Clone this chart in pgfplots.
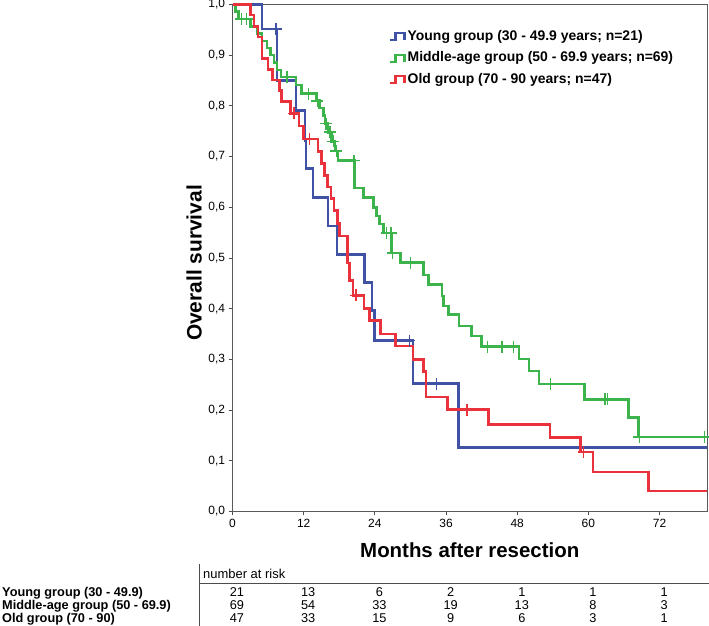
\documentclass[border=0pt]{standalone}
\usepackage{pgfplots}
\pgfplotsset{compat=1.18}
\usepackage{fontspec}
\setmainfont{Liberation Sans}
\definecolor{cblue}{RGB}{64,82,164}
\definecolor{cgreen}{RGB}{60,180,75}
\definecolor{cred}{RGB}{233,50,60}
\begin{document}
\begin{tikzpicture}
\begin{axis}[
  at={(0bp,0bp)}, anchor=south west,
  scale only axis, width=474.5bp, height=506.9bp,
  xmin=0, xmax=80, ymin=0, ymax=1,
  xtick={0,12,24,36,48,60,72},
  ytick={0,0.1,0.2,0.3,0.4,0.5,0.6,0.7,0.8,0.9,1.0},
  xtick pos=left, ytick pos=left, tick align=outside,
  major tick length=4bp,
  tick style={black!70, line width=0.8bp},
  axis line style={black!65, line width=1bp},
  yticklabel style={/pgf/number format/.cd, use comma, fixed, fixed zerofill, precision=1, assume math mode=true},
  xticklabel style={/pgf/number format/assume math mode=true},
  tick label style={font=\fontsize{12}{14}\selectfont},
  xlabel={Months after resection},
  ylabel={Overall survival},
  xlabel style={at={(axis description cs:0.5,-0.076)}, anchor=center, font=\fontsize{20.5}{24}\selectfont\bfseries},
  ylabel style={at={(axis description cs:-0.081,0.49)}, anchor=center, font=\fontsize{21}{24}\selectfont\bfseries},
  clip=false,
  legend cell align=left,
  legend style={at={(axis description cs:0.322,0.958)}, anchor=north west, draw=none, fill=none,
    font=\fontsize{14}{16}\selectfont\bfseries, row sep=4bp,
    nodes={text height=10.5bp, text depth=3bp, inner sep=2bp}},
  legend image code/.code={\draw[#1, line width=2.2bp] (0bp,-3.5bp) -- (6bp,-3.5bp) -- (6bp,3.5bp) -- (15bp,3.5bp) -- (15bp,-3.5bp);},
]
% Young
\addplot[const plot, color=cblue, line width=2.6bp] coordinates {
(0,1.000) (5.0,0.952) (7.5,0.850) (10.7,0.791) (12.2,0.732) (12.4,0.676) (13.6,0.619)
(16.1,0.563) (17.6,0.507) (22.3,0.452) (23.5,0.396) (23.9,0.337) (30.4,0.252) (38.1,0.126) (80,0.126)};
\addlegendentry{Young group (30 - 49.9 years; n=21)}
% Middle
\addplot[const plot, color=cgreen, line width=2.6bp] coordinates {
(0,1.000) (0.5,0.986) (1.0,0.971) (3.0,0.957) (4.2,0.943) (5.0,0.928) (5.8,0.914) (6.4,0.900)
(7.0,0.886) (7.5,0.871) (8.2,0.857) (10.7,0.841) (11.6,0.824) (14.2,0.810) (14.7,0.796)
(15.3,0.781) (15.6,0.765) (16.1,0.748) (16.7,0.730) (17.3,0.711) (17.8,0.692) (20.6,0.638)
(22.1,0.619) (23.8,0.600) (24.3,0.583) (24.8,0.567) (25.5,0.549) (26.8,0.510) (28.3,0.491)
(32.2,0.466) (33.0,0.448) (35.3,0.425) (35.6,0.405) (36.4,0.388) (38.2,0.366) (40.3,0.346)
(42.0,0.325) (48.3,0.301) (50.0,0.277) (51.7,0.251) (59.3,0.221) (66.8,0.185) (68.5,0.147) (80,0.147)};
\addlegendentry{Middle-age group (50 - 69.9 years; n=69)}
% Old
\addplot[const plot, color=cred, line width=2.6bp] coordinates {
(0,1.000) (3.0,0.979) (3.6,0.957) (4.3,0.936) (5.0,0.894) (6.0,0.872) (6.7,0.851) (7.9,0.830)
(8.3,0.809) (9.8,0.785) (11.2,0.760) (12.0,0.735) (14.4,0.710) (15.0,0.686) (15.5,0.663)
(16.0,0.640) (16.6,0.617) (17.1,0.594) (17.7,0.568) (18.0,0.543) (19.4,0.490) (19.7,0.456)
(20.3,0.426) (22.2,0.400) (23.1,0.376) (25.0,0.350) (27.5,0.326) (30.4,0.300) (32.2,0.276)
(32.6,0.226) (36.2,0.201) (43.2,0.172) (53.5,0.146) (58.7,0.117) (60.8,0.078) (70.1,0.040) (80,0.040)};
\addlegendentry{Old group (70 - 90 years; n=47)}
% censor marks
\addplot[forget plot, only marks, mark=+, mark size=6bp, color=cblue, mark options={line width=1.5bp}] coordinates {
(7.3,0.952) (29.8,0.337) (34.4,0.252)};
\addplot[forget plot, only marks, mark=+, mark size=6bp, color=cgreen, mark options={line width=1.5bp}] coordinates {
(1.5,0.971) (2.4,0.971) (9.2,0.857) (12.8,0.824) (14.3,0.810) (15.8,0.765) (16.4,0.748)
(17.0,0.730) (17.5,0.711) (20.5,0.692) (26.0,0.549) (26.7,0.549) (27.0,0.510) (30.0,0.491)
(43.0,0.325) (45.4,0.325) (47.4,0.325) (53.6,0.251) (62.8,0.221) (63.2,0.221) (68.6,0.147) (79.6,0.147)};
\addplot[forget plot, only marks, mark=+, mark size=6bp, color=cred, mark options={line width=1.5bp}] coordinates {
(10.4,0.785) (13.0,0.735) (20.8,0.426) (39.5,0.201) (59.2,0.117)};
\end{axis}
% number at risk table (picture coordinates in bp, origin at the picture's lower left)
\begin{scope}[shift={(-232.5bp,-114.6bp)}, x=1bp, y=1bp]
\draw[black!70, line width=0.8bp] (199,43) -- (709,43);
\draw[black!70, line width=0.8bp] (199,0) -- (199,62);
\node[anchor=base west, inner sep=0pt, font=\fontsize{13}{15}\selectfont] at (203,47.5) {number at risk};
\begin{scope}[every node/.style={font=\fontsize{12.8}{14}\selectfont, inner sep=0pt}]
\node[anchor=base west] at (2,29.2) {\bfseries Young group (30 - 49.9)};
\node[anchor=base west] at (2,16.1) {\bfseries Middle-age group (50 - 69.9)};
\node[anchor=base west] at (2,3) {\bfseries Old group (70 - 90)};
\foreach \xx/\a/\b/\c in {237/21/69/47, 308.2/13/54/33, 379.4/6/33/15, 450.6/2/19/9, 521.8/1/13/6, 593/1/8/3, 664.2/1/3/1}{
  \node[anchor=base] at (\xx,29.2) {\a};
  \node[anchor=base] at (\xx,16.1) {\b};
  \node[anchor=base] at (\xx,3) {\c};
}
\end{scope}
\pgfresetboundingbox
\path[use as bounding box] (0,0) rectangle (709,626);
\end{scope}
\end{tikzpicture}
\end{document}
